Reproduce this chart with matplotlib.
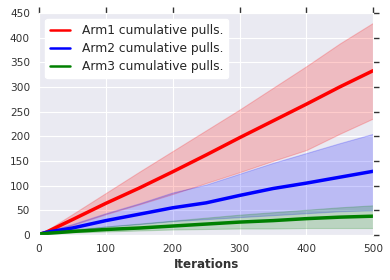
import numpy as np
import matplotlib
matplotlib.use("Agg")
import matplotlib.pyplot as plt
import seaborn as sns

sns.set_style("darkgrid")
plt.rcParams['font.family'] = ['DejaVu Sans']

iterations = [0, 10, 50, 100, 150, 200, 250, 300, 350, 400, 450, 500]

arm1_mean = [1, 5, 31, 64, 95, 128, 162, 197, 231, 265, 300, 333]
arm1_low = [0, 3, 20, 42, 62, 83, 105, 127, 150, 172, 205, 236]
arm1_high = [2, 8, 42, 85, 128, 170, 212, 254, 298, 342, 388, 430]

arm2_mean = [1, 5, 14, 29, 42, 55, 65, 80, 94, 105, 117, 129]
arm2_low = [0, 3, 8, 17, 22, 28, 32, 36, 40, 44, 48, 50]
arm2_high = [2, 7, 22, 44, 64, 86, 102, 124, 146, 166, 186, 205]

arm3_mean = [2, 3, 7, 11, 14, 18, 22, 26, 29, 33, 36, 38]
arm3_low = [1, 2, 5, 7, 9, 11, 12, 13, 13, 14, 14, 14]
arm3_high = [3, 5, 11, 17, 23, 29, 35, 41, 46, 51, 56, 60]

fig, ax = plt.subplots(figsize=(3.9, 2.8), dpi=100)

ax.fill_between(iterations, arm1_low, arm1_high, color='red', alpha=0.2, lw=0.8)
ax.fill_between(iterations, arm2_low, arm2_high, color='blue', alpha=0.2, lw=0.8)
ax.fill_between(iterations, arm3_low, arm3_high, color='green', alpha=0.2, lw=0.8)
ax.plot(iterations, arm1_mean, color='red', lw=2.5, label='Arm1 cumulative pulls.')
ax.plot(iterations, arm2_mean, color='blue', lw=2.5, label='Arm2 cumulative pulls.')
ax.plot(iterations, arm3_mean, color='green', lw=2.5, label='Arm3 cumulative pulls.')

ax.set_xlim(0, 500)
ax.set_ylim(0, 450)
ax.set_xticks([0, 100, 200, 300, 400, 500])
ax.set_yticks(range(0, 451, 50))
ax.tick_params(axis='both', which='both', direction='out', length=4, width=1,
               color='#333333', top=True, right=True, labelsize=7.6,
               labelcolor='#333333', pad=2.5)
ax.set_xlabel('Iterations', fontweight='bold', fontsize=8.6, color='#333333',
              labelpad=3)

leg = ax.legend(loc='upper left', frameon=True, facecolor='white', framealpha=1,
                edgecolor='white', fontsize=8.8, handlelength=1.6,
                handletextpad=1.0, labelspacing=0.42)
for line in leg.get_lines():
    line.set_linewidth(1.8)

fig.subplots_adjust(left=0.1, right=0.957, top=0.954, bottom=0.161)
fig.savefig('out.png', dpi=100)
